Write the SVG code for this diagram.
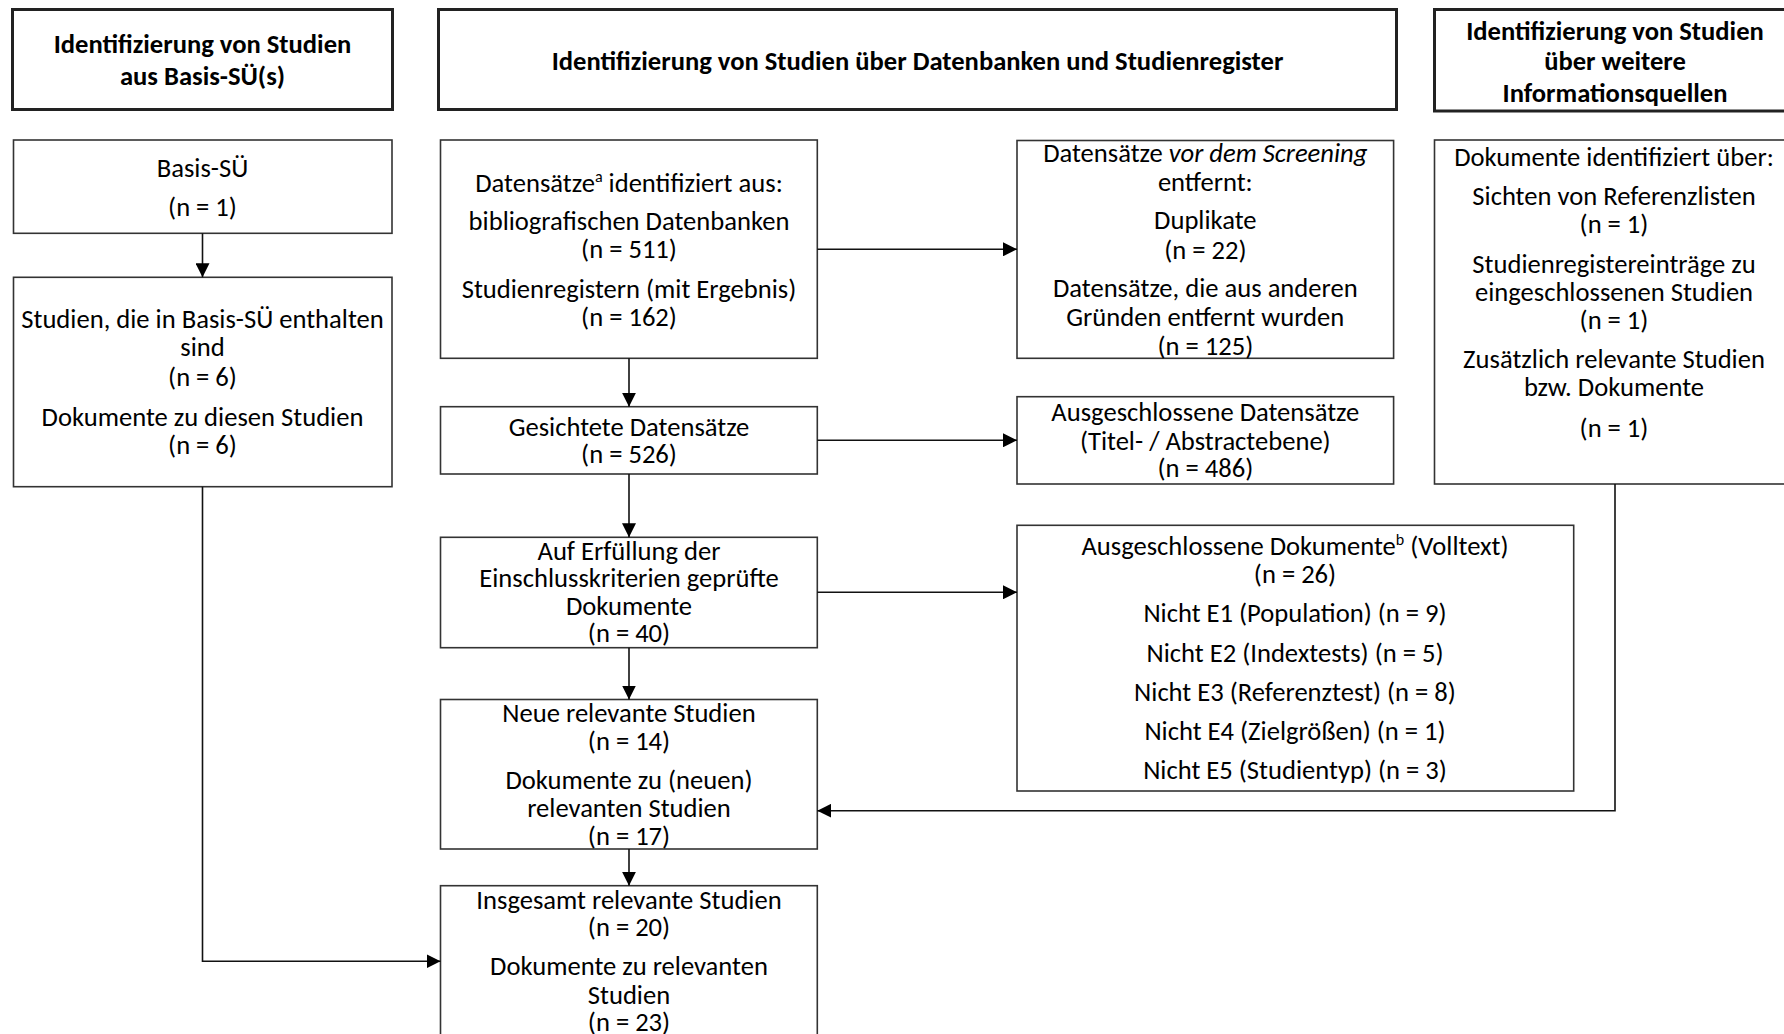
<svg xmlns="http://www.w3.org/2000/svg" width="1784" height="1034" viewBox="0 0 1784 1034">
<defs>
<style>
.hdr{fill:#fff;stroke:#222;stroke-width:3}
.box{fill:#fff;stroke:#333;stroke-width:1.6}
text{font-family:Carlito,Lato,"Liberation Sans",sans-serif;font-size:26.6px;fill:#000;text-anchor:middle}
.b{font-weight:bold}
.con{fill:none;stroke:#111;stroke-width:1.6}
.sup{font-size:16px}
</style>
<marker id="ah" viewBox="0 0 14 14" refX="14" refY="7" markerWidth="14" markerHeight="14" markerUnits="userSpaceOnUse" orient="auto">
<path d="M0,0 L14,7 L0,14 z" fill="#000"/>
</marker>
</defs>
<rect width="1784" height="1034" fill="#fff"/>

<g id="hdr-left">
<rect class="hdr" x="12.5" y="9.5" width="380" height="100"/>
<text class="b" x="202.5" y="53">Identifizierung von Studien</text>
<text class="b" x="202.5" y="85">aus Basis-SÜ(s)</text>
</g>
<g id="hdr-main">
<rect class="hdr" x="438.5" y="9.5" width="958" height="100"/>
<text class="b" x="917.5" y="70">Identifizierung von Studien über Datenbanken und Studienregister</text>
</g>
<g id="hdr-right">
<rect class="hdr" x="1434.5" y="9.5" width="370" height="101.5"/>
<text class="b" x="1615" y="40">Identifizierung von Studien</text>
<text class="b" x="1615" y="70">über weitere</text>
<text class="b" x="1615" y="101.5">Informationsquellen</text>
</g>

<g id="basis">
<rect class="box" x="13.5" y="140" width="378.5" height="93.3"/>
<text x="202.5" y="177">Basis-SÜ</text>
<text x="202.5" y="216">(n = 1)</text>
</g>
<g id="studien-basis">
<rect class="box" x="13.5" y="277.3" width="378.5" height="209.4"/>
<text x="202.5" y="328">Studien, die in Basis-SÜ enthalten</text>
<text x="202.5" y="356">sind</text>
<text x="202.5" y="386">(n = 6)</text>
<text x="202.5" y="426">Dokumente zu diesen Studien</text>
<text x="202.5" y="454">(n = 6)</text>
</g>

<g id="datensaetze">
<rect class="box" x="440.5" y="140" width="376.8" height="218.3"/>
<text x="629" y="192">Datensätze<tspan class="sup" dy="-10">a</tspan><tspan dy="10"> identifiziert aus:</tspan></text>
<text x="629" y="230">bibliografischen Datenbanken</text>
<text x="629" y="258">(n = 511)</text>
<text x="629" y="298">Studienregistern (mit Ergebnis)</text>
<text x="629" y="326">(n = 162)</text>
</g>
<g id="entfernt">
<rect class="box" x="1017" y="140.5" width="376.6" height="217.8"/>
<text x="1205.3" y="162">Datensätze <tspan font-style="italic">vor dem Screening</tspan></text>
<text x="1205.3" y="191">entfernt:</text>
<text x="1205.3" y="229">Duplikate</text>
<text x="1205.3" y="259">(n = 22)</text>
<text x="1205.3" y="297">Datensätze, die aus anderen</text>
<text x="1205.3" y="326">Gründen entfernt wurden</text>
<text x="1205.3" y="355">(n = 125)</text>
</g>
<g id="gesichtet">
<rect class="box" x="440.5" y="406.7" width="376.8" height="67.3"/>
<text x="629" y="436">Gesichtete Datensätze</text>
<text x="629" y="463">(n = 526)</text>
</g>
<g id="ausgeschl-ds">
<rect class="box" x="1017" y="396.7" width="376.6" height="87.3"/>
<text x="1205.3" y="421">Ausgeschlossene Datensätze</text>
<text x="1205.3" y="450">(Titel- / Abstractebene)</text>
<text x="1205.3" y="477">(n = 486)</text>
</g>
<g id="geprueft">
<rect class="box" x="440.5" y="537.3" width="376.8" height="110.4"/>
<text x="629" y="560">Auf Erfüllung der</text>
<text x="629" y="587">Einschlusskriterien geprüfte</text>
<text x="629" y="615">Dokumente</text>
<text x="629" y="642">(n = 40)</text>
</g>
<g id="ausgeschl-dok">
<rect class="box" x="1017" y="525.3" width="556.7" height="265.7"/>
<text x="1295" y="555">Ausgeschlossene Dokumente<tspan class="sup" dy="-10">b</tspan><tspan dy="10"> (Volltext)</tspan></text>
<text x="1295" y="583">(n = 26)</text>
<text x="1295" y="622">Nicht E1 (Population) (n = 9)</text>
<text x="1295" y="662">Nicht E2 (Indextests) (n = 5)</text>
<text x="1295" y="701">Nicht E3 (Referenztest) (n = 8)</text>
<text x="1295" y="740">Nicht E4 (Zielgrößen) (n = 1)</text>
<text x="1295" y="779">Nicht E5 (Studientyp) (n = 3)</text>
</g>
<g id="weitere">
<rect class="box" x="1434.5" y="140" width="370" height="344"/>
<text x="1614" y="166">Dokumente identifiziert über:</text>
<text x="1614" y="205">Sichten von Referenzlisten</text>
<text x="1614" y="233">(n = 1)</text>
<text x="1614" y="273">Studienregistereinträge zu</text>
<text x="1614" y="301">eingeschlossenen Studien</text>
<text x="1614" y="329">(n = 1)</text>
<text x="1614" y="368">Zusätzlich relevante Studien</text>
<text x="1614" y="396">bzw. Dokumente</text>
<text x="1614" y="437">(n = 1)</text>
</g>
<g id="neue">
<rect class="box" x="440.5" y="699.5" width="376.8" height="149.5"/>
<text x="629" y="722">Neue relevante Studien</text>
<text x="629" y="750">(n = 14)</text>
<text x="629" y="789">Dokumente zu (neuen)</text>
<text x="629" y="817">relevanten Studien</text>
<text x="629" y="845">(n = 17)</text>
</g>
<g id="insgesamt">
<rect class="box" x="440.5" y="885.7" width="376.8" height="160"/>
<text x="629" y="909">Insgesamt relevante Studien</text>
<text x="629" y="936">(n = 20)</text>
<text x="629" y="975">Dokumente zu relevanten</text>
<text x="629" y="1004">Studien</text>
<text x="629" y="1031">(n = 23)</text>
</g>

<g id="connectors">
<line class="con" x1="202.5" y1="233.3" x2="202.5" y2="277.3" marker-end="url(#ah)"/>
<polyline class="con" points="202.5,486.7 202.5,961.3 440.5,961.3" marker-end="url(#ah)"/>
<line class="con" x1="629" y1="358.3" x2="629" y2="406.7" marker-end="url(#ah)"/>
<line class="con" x1="817.3" y1="249.3" x2="1017" y2="249.3" marker-end="url(#ah)"/>
<line class="con" x1="817.3" y1="440.3" x2="1017" y2="440.3" marker-end="url(#ah)"/>
<line class="con" x1="629" y1="474" x2="629" y2="537.3" marker-end="url(#ah)"/>
<line class="con" x1="817.3" y1="592.3" x2="1017" y2="592.3" marker-end="url(#ah)"/>
<line class="con" x1="629" y1="647.7" x2="629" y2="699.5" marker-end="url(#ah)"/>
<polyline class="con" points="1615,484 1615,810.7 817.3,810.7" marker-end="url(#ah)"/>
<line class="con" x1="629" y1="849" x2="629" y2="885.7" marker-end="url(#ah)"/>
</g>
</svg>
